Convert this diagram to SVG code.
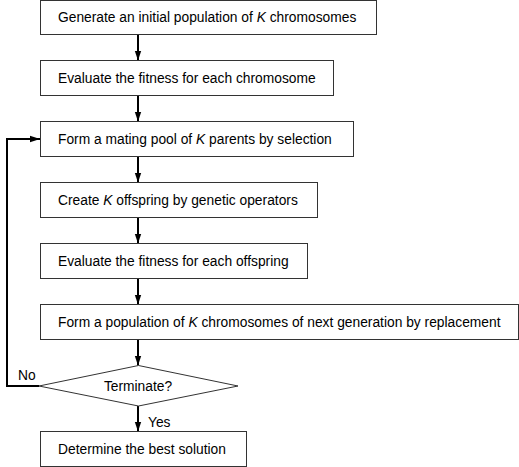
<svg xmlns="http://www.w3.org/2000/svg" width="519" height="467" viewBox="0 0 519 467">
<style>
.box{fill:#ffffff;stroke:#333333;stroke-width:1}
.t{font-family:"Liberation Sans",Arial,sans-serif;font-size:13.8px;fill:#000000}
.k{font-style:italic}
.c{fill:none;stroke:#000000;stroke-width:2}
</style>
<defs>
<marker id="ah" markerUnits="userSpaceOnUse" markerWidth="10" markerHeight="16" viewBox="0 0 15 10" refX="15" refY="5" orient="auto">
<path d="M0,0 L15,5 L0,10 Z" fill="#000000"/>
</marker>
</defs>
<rect width="519" height="467" fill="#ffffff"/>
<g id="connectors">
<line class="c" x1="138" y1="35" x2="138" y2="60.5" marker-end="url(#ah)"/>
<line class="c" x1="138" y1="96" x2="138" y2="121.5" marker-end="url(#ah)"/>
<line class="c" x1="138" y1="157" x2="138" y2="182.5" marker-end="url(#ah)"/>
<line class="c" x1="138" y1="218" x2="138" y2="243.5" marker-end="url(#ah)"/>
<line class="c" x1="138" y1="279" x2="138" y2="304.5" marker-end="url(#ah)"/>
<line class="c" x1="138" y1="340" x2="138" y2="365.5" marker-end="url(#ah)"/>
<line class="c" x1="138" y1="406" x2="138" y2="431.5" marker-end="url(#ah)"/>
<polyline class="c" points="39,386 7,386 7,139 40,139" marker-end="url(#ah)"/>
<text class="t" x="18" y="380">No</text>
<text class="t" x="148" y="427">Yes</text>
</g>
<g id="n1">
<rect class="box" x="40.5" y="0.5" width="336" height="34"/>
<text class="t" x="58" y="22">Generate an initial population of <tspan class="k">K</tspan> chromosomes</text>
</g>
<g id="n2">
<rect class="box" x="40.5" y="60.5" width="293" height="35"/>
<text class="t" x="58" y="82.5">Evaluate the fitness for each chromosome</text>
</g>
<g id="n3">
<rect class="box" x="40.5" y="121.5" width="313" height="35"/>
<text class="t" x="58" y="143.5">Form a mating pool of <tspan class="k">K</tspan> parents by selection</text>
</g>
<g id="n4">
<rect class="box" x="40.5" y="182.5" width="277" height="35"/>
<text class="t" x="58" y="204.5">Create <tspan class="k">K</tspan> offspring by genetic operators</text>
</g>
<g id="n5">
<rect class="box" x="40.5" y="243.5" width="267" height="35"/>
<text class="t" x="58" y="265.5">Evaluate the fitness for each offspring</text>
</g>
<g id="n6">
<rect class="box" x="40.5" y="304.5" width="478" height="35"/>
<text class="t" x="58" y="326.5">Form a population of <tspan class="k">K</tspan> chromosomes of next generation by replacement</text>
</g>
<g id="n7">
<polygon class="box" points="138.5,365.5 238,386 138.5,406 39,386"/>
<text class="t" x="138" y="391" text-anchor="middle">Terminate?</text>
</g>
<g id="n8">
<rect class="box" x="40.5" y="431.5" width="206" height="35"/>
<text class="t" x="58" y="454">Determine the best solution</text>
</g>
</svg>
